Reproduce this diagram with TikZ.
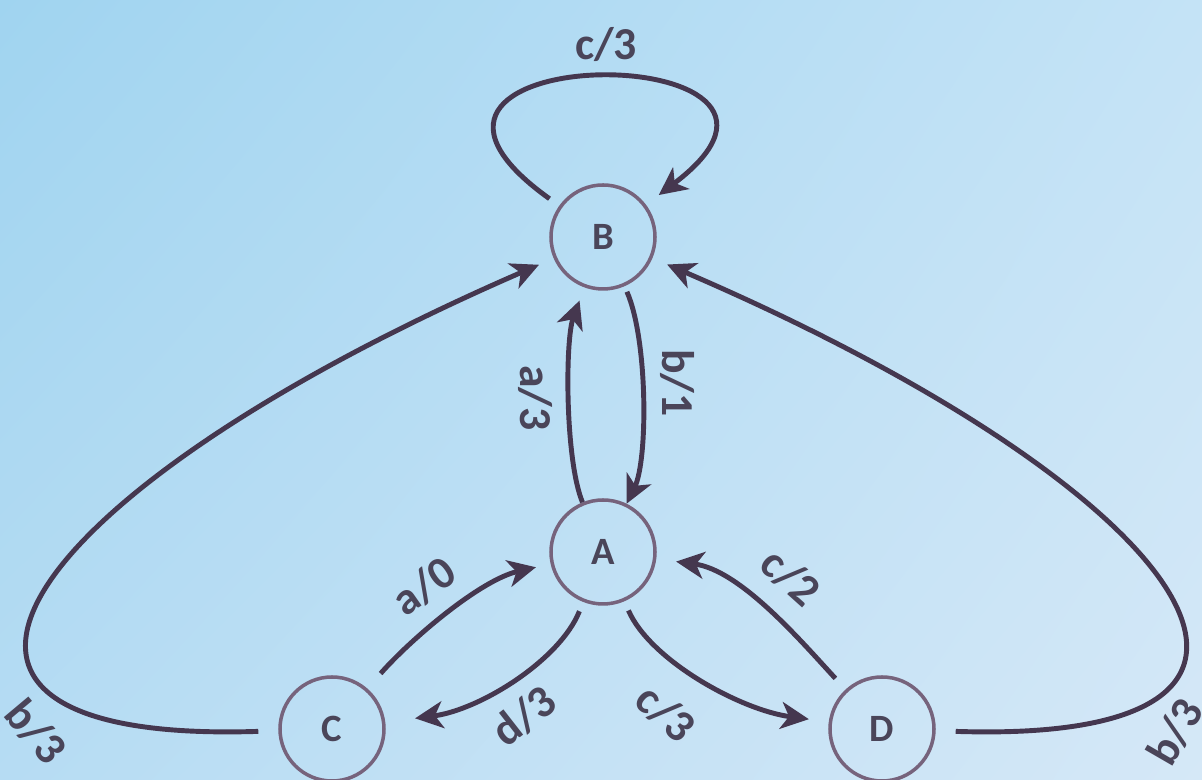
\documentclass[tikz,border=0pt]{standalone}
\usepackage{fontspec}
\setmainfont{Carlito}
\usetikzlibrary{arrows.meta,shadings}
\definecolor{edgecol}{HTML}{45374F}
\definecolor{ringcol}{HTML}{76637C}
\definecolor{inkcol}{HTML}{4A4559}
\definecolor{bgtl}{HTML}{A0D4F0}
\definecolor{bgtr}{HTML}{C4E3F6}
\definecolor{bgbl}{HTML}{B6DCF3}
\definecolor{bgbr}{HTML}{D5E8F7}

\begin{document}
\begin{tikzpicture}[
  x=0.1mm, y=-0.1mm,
  font=\fontsize{13}{15}\selectfont\bfseries,
  state/.style={circle, draw=ringcol, line width=1pt, minimum size=10.4mm,
                inner sep=0pt, text=inkcol, font=\fontsize{11}{13}\selectfont\bfseries},
  lbl/.style={text=inkcol, inner sep=1pt},
  arr/.style={-{Stealth[length=2.8mm, width=2.7mm, inset=0.8mm]},
              line width=1.4pt, draw=edgecol},
]

% ─── slide background ──────────────────────────────────────────────────────
\useasboundingbox (0,0) rectangle (1202,780);
\shade[upper left=bgtl, upper right=bgtr, lower left=bgbl, lower right=bgbr]
  (0,0) rectangle (1202,780);

% ─── states ────────────────────────────────────────────────────────────────
\node[state] (B) at (603,237) {B};
\node[state] (A) at (603,552) {A};
\node[state] (C) at (332,729) {C};
\node[state] (D) at (882,729) {D};

% ─── B: self loop and the pair with A ──────────────────────────────────────
\draw[arr, shorten <=1.2mm, shorten >=1.6mm] (B) .. controls (322,36) and (870,36) .. (B);
\node[lbl] (lBB) at (606,45) {c/3};

\draw[arr, shorten >=1.4mm] (A) .. controls (565,460) and (565,340) .. (B);
\draw[arr, shorten <=0.6mm] (B) .. controls (648,340) and (648,460) .. (A);
\node[lbl, rotate=-90] (lAB) at (535,398) {a/3};
\node[lbl, rotate=-90] (lBA) at (677,383) {b/1};

% ─── C and D up to B ───────────────────────────────────────────────────────
\draw[arr, shorten <=2mm, shorten >=1.6mm] (C) .. controls (-160,745) and (20,490) .. (B);
\draw[arr, shorten <=2mm, shorten >=1.6mm] (D) .. controls (1372,745) and (1192,490) .. (B);
\node[lbl, rotate=-50] (lCB) at (36,732) {b/3};
\node[lbl, rotate=60] (lDB) at (1175,732) {b/3};

% ─── A with C and D ────────────────────────────────────────────────────────
\draw[arr, shorten <=2mm, shorten >=1.5mm] (C) .. controls (410,640) and (480,580) .. (A);
\draw[arr, shorten <=1mm, shorten >=3mm] (A) .. controls (560,660) and (480,710) .. (C);
\node[lbl, rotate=35] (lCA) at (424,586) {a/0};
\node[lbl, rotate=38] (lAC) at (524,716) {d/3};

\draw[arr, shorten <=1mm, shorten >=2mm] (A) .. controls (650,660) and (740,710) .. (D);
\draw[arr, shorten <=1.5mm, shorten >=2mm] (D) .. controls (800,640) and (740,570) .. (A);
\node[lbl, rotate=-42] (lAD) at (666,713) {c/3};
\node[lbl, rotate=-42] (lDA) at (791,577) {c/2};

\end{tikzpicture}
\end{document}
